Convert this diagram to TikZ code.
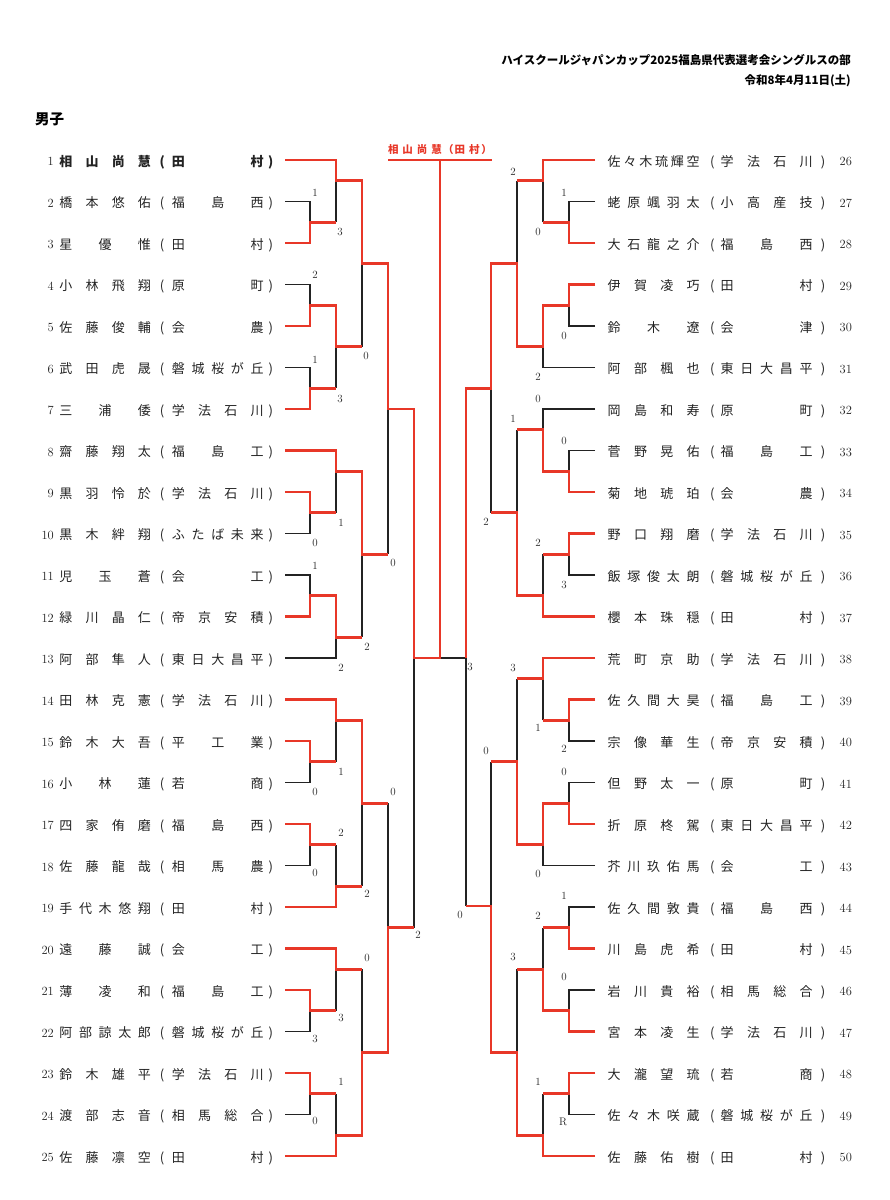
\documentclass[tikz,border=0pt]{standalone}
\usepackage{fontspec}
\newfontfamily\jp{Noto Sans CJK JP}
\definecolor{bred}{RGB}{232,55,40}
\definecolor{ink}{RGB}{35,35,35}
\makeatletter
\def\spr#1{\spr@a#1\spr@end}
\def\spr@a#1#2\spr@end{#1\ifx\relax#2\relax\else\hfill\spr@a#2\spr@end\fi}
\makeatother
\tikzset{
 win/.style={draw=bred, line width=2.8pt},
 lose/.style={draw=ink, line width=1.1pt},
 rowtext/.style={font=\jp\fontsize{13}{14}\selectfont, anchor=base west, inner sep=0pt, text=ink},
 numL/.style={font=\fontsize{12.5}{14}\selectfont, anchor=base east, inner sep=0pt, text=ink},
 numR/.style={font=\fontsize{12.5}{14}\selectfont, anchor=base west, inner sep=0pt, text=ink},
 score/.style={font=\fontsize{11}{12}\selectfont, inner sep=0pt, text=ink},
 hdr/.style={font=\jp\bfseries\fontsize{11.5}{13}\selectfont, anchor=base east, inner sep=0pt, text=black},
}
\newcommand\Lrow[4][]{%
 \node[numL] (nL#2) at (54,{160+41.5*(#2-1)+5.6}) {#2};
 \node[rowtext] (tL#2) at (59.2,{160+41.5*(#2-1)+6.4}) {#1\hbox to 91.6pt{\spr{#3}}\kern11.2pt\makebox[0pt]{(}\kern9.8pt\hbox to 91.6pt{\spr{#4}}\kern7.2pt\makebox[0pt]{)}};
}
\newcommand\Rrow[3]{%
 \node[numR] (nR#1) at (839.5,{160+41.5*(#1-26)+5.6}) {#1};
 \node[rowtext] (tR#1) at (607.5,{160+41.5*(#1-26)+6.4}) {\hbox to 92pt{\spr{#2}}\kern12.5pt\makebox[0pt]{(}\kern8.5pt\hbox to 92pt{\spr{#3}}\kern10.5pt\makebox[0pt]{)}};
}
\begin{document}
\begin{tikzpicture}[x=1pt,y=-1pt]
\fill[white] (0,0) rectangle (890,1200);
\useasboundingbox (0,0) rectangle (890,1200);
% header
\node[hdr] (title) at (851,64.5) {ハイスクールジャパンカップ2025福島県代表選考会シングルスの部};
\node[hdr] (date) at (851,84.5) {令和8年4月11日(土)};
\node[font=\jp\bfseries\fontsize{14.5}{16}\selectfont, anchor=base west, inner sep=0pt] (sex) at (35,124) {男子};
% entry coordinates
\foreach \i in {1,...,25} \coordinate (e\i) at (285,{160+41.5*(\i-1)});
\foreach \i in {26,...,50} \coordinate (e\i) at (595,{160+41.5*(\i-26)});
\coordinate (chL) at (388,160);
\coordinate (chR) at (492,160);
% ---------- losers (black) left
\draw[lose] (e2) -| (310,222.25);
\draw[lose] (336,222.25) -- (336,180.75);
\draw[lose] (e4) -| (310,305.25);
\draw[lose] (362,346.75) -- (362,263.75);
\draw[lose] (e6) -| (310,388.25);
\draw[lose] (336,388.25) -- (336,346.75);
\draw[lose] (388,554.25) -- (388,409);
\draw[lose] (336,512.75) -- (336,471.25);
\draw[lose] (e10) -| (310,512.75);
\draw[lose] (e11) -| (310,595.75);
\draw[lose] (362,637.25) -- (362,554.25);
\draw[lose] (e13) -| (336,637.25);
\draw[lose] (388,803.25) -- (388,927.75);
\draw[lose] (336,761.75) -- (336,720.25);
\draw[lose] (e16) -| (310,761.75);
\draw[lose] (336,844.75) -- (336,886.25);
\draw[lose] (e18) -| (310,844.75);
\draw[lose] (362,886.25) -- (362,803.25);
\draw[lose] (362,969.25) -- (362,1052.25);
\draw[lose] (336,1010.75) -- (336,969.25);
\draw[lose] (e22) -| (310,1010.75);
\draw[lose] (336,1093.75) -- (336,1135.25);
\draw[lose] (e24) -| (310,1093.75);
\draw[lose] (414,927.75) -- (414,658);
% ---------- losers (black) right
\draw[lose] (517,180.75) -- (517,263.75);
\draw[lose] (e27) -| (569,222.25);
\draw[lose] (543,222.25) -- (543,180.75);
\draw[lose] (466,658) -- (440,658);
\draw[lose] (e30) -| (569,305.25);
\draw[lose] (e31) -| (543,346.75);
\draw[lose] (e32) -| (543,429.75);
\draw[lose] (e33) -| (569,471.25);
\draw[lose] (517,429.75) -- (517,512.75);
\draw[lose] (543,554.25) -- (543,595.75);
\draw[lose] (e36) -| (569,554.25);
\draw[lose] (491,512.75) -- (491,388.25);
\draw[lose] (517,678.75) -- (517,761.75);
\draw[lose] (543,720.25) -- (543,678.75);
\draw[lose] (e40) -| (569,720.25);
\draw[lose] (e41) -| (569,803.25);
\draw[lose] (491,761.75) -- (491,906);
\draw[lose] (e43) -| (543,844.75);
\draw[lose] (e44) -| (569,927.75);
\draw[lose] (543,927.75) -- (543,969.25);
\draw[lose] (e46) -| (569,1010.75);
\draw[lose] (517,969.25) -- (517,1052.25);
\draw[lose] (543,1093.75) -- (543,1135.25);
\draw[lose] (e49) -| (569,1093.75);
\draw[lose] (466,906) -- (466,658);
% ---------- winners (red) left
\draw[win] (e1) -| (336,180.75) -| (362,263.75) -| (388,409) -| (414,658) -| (440,160);
\draw[win] (chL) -- (chR);
\draw[win] (e3) -| (310,222.25) -- (336,222.25);
\draw[win] (e5) -| (310,305.25) -| (336,346.75) -- (362,346.75);
\draw[win] (e7) -| (310,388.25) -- (336,388.25);
\draw[win] (e8) -| (336,471.25) -| (362,554.25) -- (388,554.25);
\draw[win] (e9) -| (310,512.75) -- (336,512.75);
\draw[win] (e12) -| (310,595.75) -| (336,637.25) -- (362,637.25);
\draw[win] (e14) -| (336,720.25) -| (362,803.25) -- (388,803.25);
\draw[win] (e15) -| (310,761.75) -- (336,761.75);
\draw[win] (e17) -| (310,844.75) -- (336,844.75);
\draw[win] (e19) -| (336,886.25) -- (362,886.25);
\draw[win] (e20) -| (336,969.25) -- (362,969.25);
\draw[win] (e21) -| (310,1010.75) -- (336,1010.75);
\draw[win] (e23) -| (310,1093.75) -- (336,1093.75);
\draw[win] (e25) -| (336,1135.25) -| (362,1052.25) -| (388,927.75) -- (414,927.75);
% ---------- winners (red) right
\draw[win] (e26) -| (543,180.75) -- (517,180.75);
\draw[win] (e28) -| (569,222.25) -- (543,222.25);
\draw[win] (e29) -| (569,305.25) -| (543,346.75) -| (517,263.75) -| (491,388.25) -| (466,658);
\draw[win] (e34) -| (569,471.25) -| (543,429.75) -- (517,429.75);
\draw[win] (e35) -| (569,554.25) -- (543,554.25);
\draw[win] (e37) -| (543,595.75) -| (517,512.75) -- (491,512.75);
\draw[win] (e38) -| (543,678.75) -- (517,678.75);
\draw[win] (e39) -| (569,720.25) -- (543,720.25);
\draw[win] (e42) -| (569,803.25) -| (543,844.75) -| (517,761.75) -- (491,761.75);
\draw[win] (e45) -| (569,927.75) -- (543,927.75);
\draw[win] (e47) -| (569,1010.75) -| (543,969.25) -- (517,969.25);
\draw[win] (e48) -| (569,1093.75) -- (543,1093.75);
\draw[win] (e50) -| (543,1135.25) -| (517,1052.25) -| (491,906) -- (466,906);
% champion label
\node[font=\jp\bfseries\fontsize{10.5}{12}\selectfont, text=bred, inner sep=0pt] (champ) at (440,150) {相\kern4pt山\kern4pt尚\kern4pt慧\kern1pt（\kern1pt田\kern4pt村\kern2pt）};
% scores
\foreach \x/\y/\t [count=\k] in {315/193/1, 340/232/3, 315/275/2, 366/356/0, 315/360/1, 340/399/3, 341/523/1, 315/543/0, 393/563/0, 315/566/1, 367/647/2, 341/668/2, 341/772/1, 393/792/0, 315/792/0, 341/833/2, 315/873/0, 367/894/2, 418/935/2, 367/958/0, 341/1018/3, 315/1039/3, 341/1082/1, 315/1121/0, 513/172/2, 564/193/1, 538/232/0, 564/336/0, 538/377/2, 538/399/0, 513/419/1, 564/441/0, 486/522/2, 538/543/2, 564/585/3, 470/667/3, 513/668/3, 538/728/1, 564/749/2, 486/751/0, 564/772/0, 538/874/0, 564/896/1, 460/915/0, 538/916/2, 513/957/3, 564/977/0, 538/1082/1, 563/1122/R}
  \node[score] (sc\k) at (\x,\y) {\t};
% left entries
\Lrow[\bfseries]{1}{相山尚慧}{田村}
\Lrow{2}{橋本悠佑}{福島西}
\Lrow{3}{星優惟}{田村}
\Lrow{4}{小林飛翔}{原町}
\Lrow{5}{佐藤俊輔}{会農}
\Lrow{6}{武田虎晟}{磐城桜が丘}
\Lrow{7}{三浦倭}{学法石川}
\Lrow{8}{齋藤翔太}{福島工}
\Lrow{9}{黒羽怜於}{学法石川}
\Lrow{10}{黒木絆翔}{ふたば未来}
\Lrow{11}{児玉蒼}{会工}
\Lrow{12}{緑川晶仁}{帝京安積}
\Lrow{13}{阿部隼人}{東日大昌平}
\Lrow{14}{田林克憲}{学法石川}
\Lrow{15}{鈴木大吾}{平工業}
\Lrow{16}{小林蓮}{若商}
\Lrow{17}{四家侑磨}{福島西}
\Lrow{18}{佐藤龍哉}{相馬農}
\Lrow{19}{手代木悠翔}{田村}
\Lrow{20}{遠藤誠}{会工}
\Lrow{21}{薄凌和}{福島工}
\Lrow{22}{阿部諒太郎}{磐城桜が丘}
\Lrow{23}{鈴木雄平}{学法石川}
\Lrow{24}{渡部志音}{相馬総合}
\Lrow{25}{佐藤凛空}{田村}
% right entries
\Rrow{26}{佐々木琉輝空}{学法石川}
\Rrow{27}{蛯原颯羽太}{小高産技}
\Rrow{28}{大石龍之介}{福島西}
\Rrow{29}{伊賀凌巧}{田村}
\Rrow{30}{鈴木遼}{会津}
\Rrow{31}{阿部楓也}{東日大昌平}
\Rrow{32}{岡島和寿}{原町}
\Rrow{33}{菅野晃佑}{福島工}
\Rrow{34}{菊地琥珀}{会農}
\Rrow{35}{野口翔磨}{学法石川}
\Rrow{36}{飯塚俊太朗}{磐城桜が丘}
\Rrow{37}{櫻本珠穏}{田村}
\Rrow{38}{荒町京助}{学法石川}
\Rrow{39}{佐久間大昊}{福島工}
\Rrow{40}{宗像華生}{帝京安積}
\Rrow{41}{但野太一}{原町}
\Rrow{42}{折原柊駕}{東日大昌平}
\Rrow{43}{芥川玖佑馬}{会工}
\Rrow{44}{佐久間敦貴}{福島西}
\Rrow{45}{川島虎希}{田村}
\Rrow{46}{岩川貴裕}{相馬総合}
\Rrow{47}{宮本凌生}{学法石川}
\Rrow{48}{大瀧望琉}{若商}
\Rrow{49}{佐々木咲蔵}{磐城桜が丘}
\Rrow{50}{佐藤佑樹}{田村}
\end{tikzpicture}
\end{document}
